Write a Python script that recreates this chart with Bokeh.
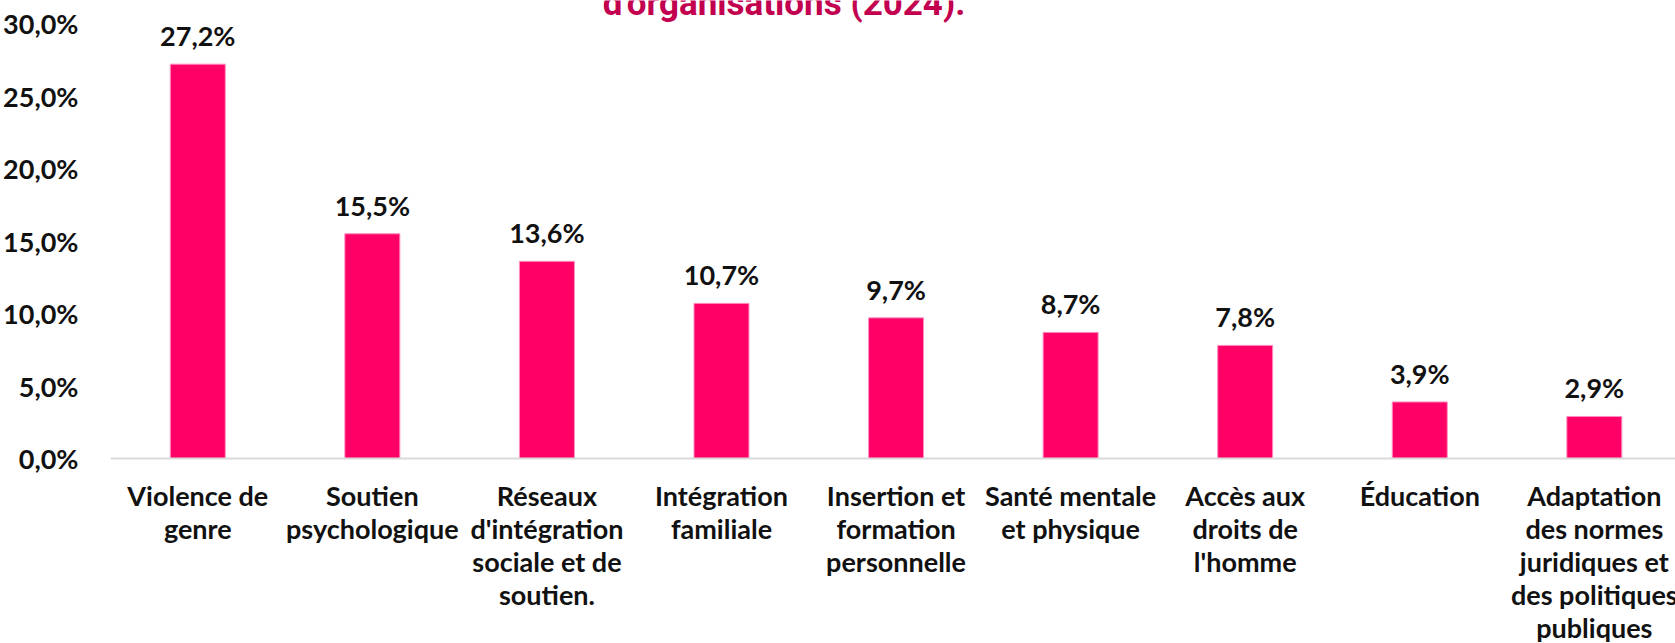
from bokeh.plotting import figure
from bokeh.models import (ColumnDataSource, LabelSet, Range1d, Span,
                          FixedTicker, CustomJSTickFormatter)
from bokeh.core.properties import value
from bokeh.embed import file_html
from bokeh.resources import INLINE

categories = [
    "Violence de\ngenre",
    "Soutien\npsychologique",
    "Réseaux\nd'intégration\nsociale et de\nsoutien.",
    "Intégration\nfamiliale",
    "Insertion et\nformation\npersonnelle",
    "Santé mentale\net physique",
    "Accès aux\ndroits de\nl'homme",
    "Éducation",
    "Adaptation\ndes normes\njuridiques et\ndes politiques\npubliques",
]
values = [27.2, 15.5, 13.6, 10.7, 9.7, 8.7, 7.8, 3.9, 2.9]
y_ticks = [0, 5, 10, 15, 20, 25, 30]
title_text = "d'organisations (2024)."

FONT = "Lato"
BAR = "#FF0066"
TXT = "#111111"

idx = list(range(len(categories)))

# the plot frame fills the canvas vertically so the wrapped category names
# and the (cut) title line can be drawn as text glyphs
p = figure(x_range=Range1d(-0.5, 8.465), y_range=Range1d(-12.76, 31.59),
           width=1675, height=643, output_backend="svg", toolbar_location=None,
           x_axis_location=None,
           min_border_left=107, min_border_right=0, min_border_top=0,
           min_border_bottom=0)

src = ColumnDataSource(dict(
    x=idx, top=values,
    lab=[f"{v:.1f}".replace(".", ",") + "%" for v in values],
))
p.vbar(x="x", top="top", width=0.315, source=src, fill_color=BAR,
       line_color="#FF8FBF", line_width=1)

p.add_layout(Span(location=0, dimension="width", line_color="#D9D9D9",
                  line_width=2))

p.add_layout(LabelSet(x="x", y="top", text="lab", source=src, y_offset=18,
                      text_align="center", text_baseline="alphabetic",
                      text_font=value(FONT), text_font_style="bold",
                      text_font_size="27px", text_color=TXT))

# category names, one text glyph per wrapped line
split = [c.split("\n") for c in categories]
nlines = max(len(s) for s in split)
for j in range(nlines):
    s = ColumnDataSource(dict(
        x=idx, y=[0] * len(idx),
        t=[parts[j] if j < len(parts) else "" for parts in split],
    ))
    p.text(x="x", y="y", text="t", source=s, y_offset=37 + 33 * j,
           text_align="center", text_baseline="alphabetic",
           text_font=value(FONT), text_font_style="bold",
           text_font_size="27px", text_color=TXT)

# last line of the chart title, cut by the top edge as in the original
tsrc = ColumnDataSource(dict(x=[idx[4]], y=[y_ticks[-1]], t=[title_text]))
p.text(x="x", y="y", text="t", source=tsrc, x_offset=-112, y_offset=-20,
       text_align="center", text_baseline="alphabetic",
       text_font=value("Roboto"), text_font_style="bold",
       text_font_size="35px", text_color="#C2004F")

p.xgrid.visible = False
p.ygrid.visible = False
p.outline_line_color = None
p.background_fill_color = "white"
p.border_fill_color = "white"

ya = p.yaxis[0]
ya.axis_line_color = None
ya.major_tick_line_color = None
ya.minor_tick_line_color = None
ya.ticker = FixedTicker(ticks=y_ticks)
ya.formatter = CustomJSTickFormatter(code="return tick.toFixed(1).replace('.', ',') + '%';")
ya.major_label_text_font = FONT
ya.major_label_text_font_style = "bold"
ya.major_label_text_font_size = "27px"
ya.major_label_text_color = TXT
ya.major_label_standoff = 26

open("out.html", "w").write(file_html(p, INLINE))
